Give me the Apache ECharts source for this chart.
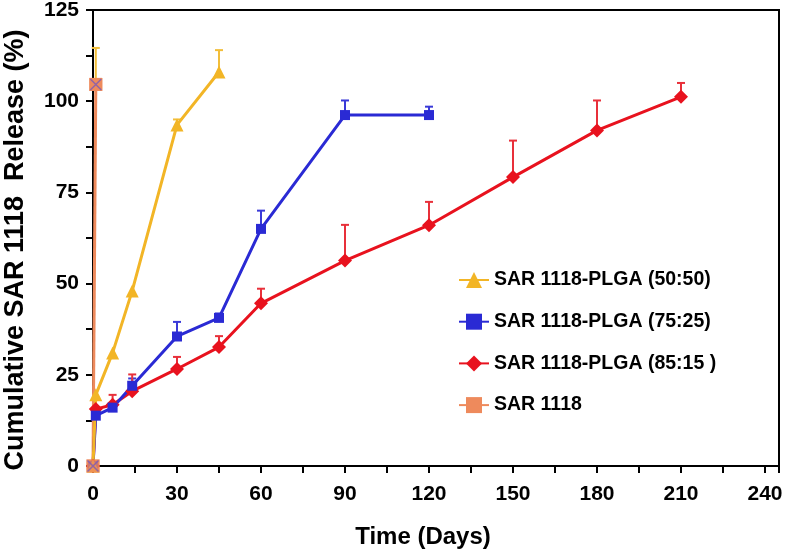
<!DOCTYPE html>
<html><head><meta charset="utf-8">
<script src="https://cdn.jsdelivr.net/npm/echarts@6/dist/echarts.min.js"></script>
<style>html,body{margin:0;padding:0;background:#fff}#c{width:792px;height:552px}</style>
</head><body><div id="c"></div>
<script>
// Data (time in days, cumulative release %)
const seriesNames = ['SAR 1118-PLGA (50:50)', 'SAR 1118-PLGA (75:25)', 'SAR 1118-PLGA (85:15 )', 'SAR 1118'];
const days5050 = [0, 1, 7, 14, 30, 45];
const rel5050  = [0, 19.5, 31, 48, 93.5, 108];
const err5050  = [0, 0, 0, 0, 1.5, 6];
const days7525 = [0, 1, 7, 14, 30, 45, 60, 90, 120];
const rel7525  = [0, 13.8, 16, 22, 35.5, 40.6, 65, 96.2, 96.2];
const err7525  = [0, 0, 1.2, 2, 4, 1.2, 5, 4, 2.3];
const days8515 = [0, 1, 7, 14, 30, 45, 60, 90, 120, 150, 180, 210];
const rel8515  = [0, 15.6, 16.8, 20.5, 26.6, 32.6, 44.6, 56.3, 66, 79.2, 92, 101.2];
const err8515  = [0, 0, 2.7, 4.6, 3.3, 3, 4, 9.8, 6.4, 10, 8.2, 3.8];
const daysSAR  = [0, 1];
const relSAR   = [0, 104.6];
const errSAR   = [0, 10];
const xTicks = [0, 30, 60, 90, 120, 150, 180, 210, 240];
const yTicks = [0, 25, 50, 75, 100, 125];

const colors = ['#F2B526', '#2A2AD4', '#E8121E', '#EE8A5C'];
const errColors = ['#F2BE3A', '#3A3AD8', '#E8303A', '#F2BE3A'];

function pts(d, v) { return d.map((x, i) => [x, v[i]]); }
function errPts(d, v, e) { return d.map((x, i) => [x, v[i], v[i] + e[i]]).filter(p => p[2] > p[1]); }

function errSeries(data, color) {
  return {
    type: 'custom', silent: true, z: 1, data: data,
    renderItem: function (params, api) {
      const p0 = api.coord([api.value(0), api.value(1)]);
      const p1 = api.coord([api.value(0), api.value(2)]);
      return { type: 'group', children: [
        { type: 'line', shape: { x1: p0[0], y1: p0[1], x2: p1[0], y2: p1[1] }, style: { stroke: color, lineWidth: 2 } },
        { type: 'line', shape: { x1: p1[0] - 4, y1: p1[1], x2: p1[0] + 4, y2: p1[1] }, style: { stroke: color, lineWidth: 2 } }
      ]};
    }
  };
}

const fontFam = '"Liberation Sans", Arial, sans-serif';
const chart = echarts.init(document.getElementById('c'));
const lineBase = { type: 'line', z: 3, lineStyle: { width: 3 }, showSymbol: true };
chart.setOption({
  animation: false,
  backgroundColor: '#fff',
  grid: { left: 93, right: 13, top: 10, bottom: 86, show: true, borderColor: '#000', borderWidth: 2,
          containLabel: false, outerBoundsMode: 'none' },
  legend: {
    orient: 'vertical', left: 453, top: 265, itemWidth: 30, itemHeight: 20, itemGap: 21.7,
    data: seriesNames,
    textStyle: { fontFamily: fontFam, fontWeight: 'bold', fontSize: 19.5, color: '#000' }
  },
  xAxis: {
    type: 'value', min: 0, max: 245, interval: 30,
    name: 'Time (Days)', nameLocation: 'middle', nameGap: 59,
    nameTextStyle: { fontFamily: fontFam, fontWeight: 'bold', fontSize: 24, color: '#000', padding: [0, 26, 0, 0] },
    axisLine: { show: true, lineStyle: { color: '#000', width: 2 } },
    axisTick: { show: true, inside: false, length: 7, lineStyle: { color: '#000', width: 2 } },
    minorTick: { show: true, splitNumber: 2, length: 7, lineStyle: { color: '#000', width: 2 } },
    splitLine: { show: false },
    axisLabel: { showMaxLabel: false, margin: 18, fontFamily: fontFam, fontWeight: 'bold', fontSize: 21, color: '#000',
      formatter: v => xTicks.includes(v) ? String(v) : '' }
  },
  yAxis: {
    type: 'value', min: 0, max: 125, interval: 25,
    name: 'Cumulative SAR 1118  Release (%)', nameLocation: 'middle', nameGap: 64, nameRotate: 90,
    nameTextStyle: { fontFamily: fontFam, fontWeight: 'bold', fontSize: 27, color: '#000', padding: [0, 24, 0, 0] },
    axisLine: { show: true, lineStyle: { color: '#000', width: 2 } },
    axisTick: { show: true, inside: false, length: 7, lineStyle: { color: '#000', width: 2 } },
    minorTick: { show: true, splitNumber: 2, length: 7, lineStyle: { color: '#000', width: 2 } },
    splitLine: { show: false },
    axisLabel: { margin: 14, fontFamily: fontFam, fontWeight: 'bold', fontSize: 21, color: '#000',
      formatter: v => yTicks.includes(v) ? String(v) : '' }
  },
  series: [
    errSeries(errPts(days5050, rel5050, err5050), errColors[0]),
    errSeries(errPts(days7525, rel7525, err7525), errColors[1]),
    errSeries(errPts(days8515, rel8515, err8515), errColors[2]),
    errSeries(errPts(daysSAR, relSAR, errSAR), errColors[3]),
    Object.assign({}, lineBase, { name: seriesNames[3], data: pts(daysSAR, relSAR), color: colors[3], symbol: 'rect', symbolSize: 13, z: 2 }),
    Object.assign({}, lineBase, { name: seriesNames[2], data: pts(days8515, rel8515), color: colors[2], symbol: 'diamond', symbolSize: 14 }),
    Object.assign({}, lineBase, { name: seriesNames[1], data: pts(days7525, rel7525), color: colors[1], symbol: 'rect', symbolSize: 10 }),
    Object.assign({}, lineBase, { name: seriesNames[0], data: pts(days5050, rel5050), color: colors[0], symbol: 'triangle', symbolSize: 13 }),
    { type: 'scatter', z: 6, silent: true, data: pts(daysSAR, relSAR), symbol: 'rect', symbolSize: 13, itemStyle: { color: colors[3] } },
    { type: 'scatter', z: 7, silent: true, data: pts(daysSAR, relSAR), symbol: 'path://M0,0L10,10M10,0L0,10', symbolSize: 11,
      itemStyle: { color: 'none', borderColor: '#7A5AB8', borderWidth: 1.5 } }
  ]
});
</script></body></html>
